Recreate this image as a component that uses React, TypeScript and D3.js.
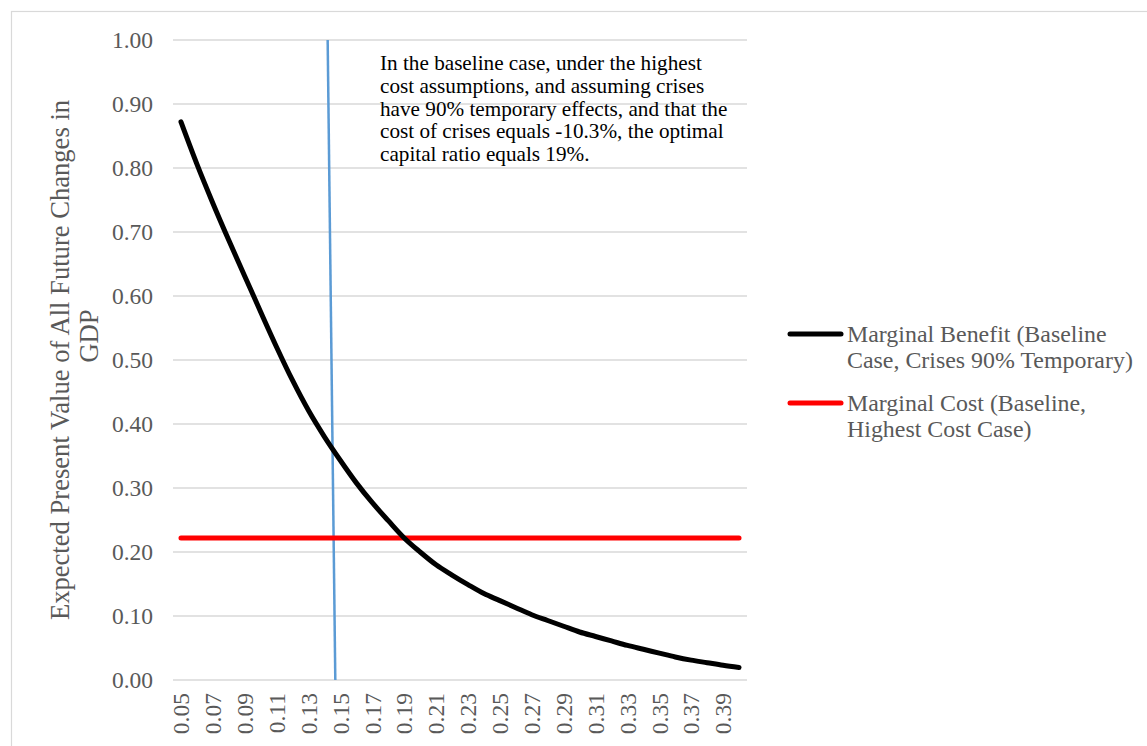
import React from "react";
import * as d3 from "d3";

const categories = [
  "0.05","0.06","0.07","0.08","0.09","0.10","0.11","0.12","0.13","0.14","0.15","0.16",
  "0.17","0.18","0.19","0.20","0.21","0.22","0.23","0.24","0.25","0.26","0.27","0.28",
  "0.29","0.30","0.31","0.32","0.33","0.34","0.35","0.36","0.37","0.38","0.39","0.40",
];
const tickLabels = [
  "0.05","0.07","0.09","0.11","0.13","0.15","0.17","0.19","0.21","0.23","0.25","0.27",
  "0.29","0.31","0.33","0.35","0.37","0.39",
];
const marginalBenefit = [
  0.872, 0.806, 0.745, 0.687, 0.631, 0.575, 0.520, 0.468, 0.421, 0.380, 0.343, 0.308,
  0.277, 0.249, 0.222, 0.200, 0.180, 0.164, 0.149, 0.135, 0.124, 0.113, 0.102, 0.093,
  0.084, 0.075, 0.068, 0.061, 0.054, 0.048, 0.042, 0.036, 0.031, 0.027, 0.023, 0.0195,
];
const marginalCost = categories.map(() => 0.222);
const optimumLine = [
  { x: 0.1420, y: 1.0 },
  { x: 0.1468, y: 0.0 },
];
const yTicks = [0, 0.1, 0.2, 0.3, 0.4, 0.5, 0.6, 0.7, 0.8, 0.9, 1.0];
const legendItems = [
  { lines: ["Marginal Benefit (Baseline", "Case, Crises 90% Temporary)"], color: "#000000" },
  { lines: ["Marginal Cost (Baseline,", "Highest Cost Case)"], color: "#FF0000" },
];
const annotation = [
  "In the baseline case, under the highest",
  "cost assumptions, and assuming crises",
  "have 90% temporary effects, and that the",
  "cost of crises equals -10.3%, the optimal",
  "capital ratio equals 19%.",
];
const yTitle = ["Expected Present Value of All Future Changes in", "GDP"];

const W = 1147;
const H = 746;
const plot = { left: 173, right: 747, top: 40, bottom: 680 };
const font = "'Liberation Serif', 'Times New Roman', serif";
const gray = "#595959";

export default function App() {
  const x = d3.scalePoint<string>().domain(categories).range([plot.left, plot.right]).padding(0.5);
  const xLin = d3
    .scaleLinear()
    .domain([+categories[0], +categories[categories.length - 1]])
    .range([x(categories[0])!, x(categories[categories.length - 1])!]);
  const y = d3.scaleLinear().domain([0, 1]).range([plot.bottom, plot.top]);

  const line = d3
    .line<number>()
    .x((_, i) => x(categories[i])!)
    .y((d) => y(d))
    .curve(d3.curveMonotoneX);
  const blue = d3
    .line<{ x: number; y: number }>()
    .x((d) => xLin(d.x))
    .y((d) => y(d.y));

  return (
    <svg width={W} height={H} style={{ position: "absolute", left: 0, top: 0 }} fontFamily={font}>
      <rect x={0} y={0} width={W} height={H} fill="#fff" />
      <rect x={11.5} y={11.5} width={W + 20} height={H + 20} fill="none" stroke="#d9d9d9" strokeWidth={1.2} />
      {yTicks.map((t) => (
        <g key={t}>
          <line x1={plot.left} x2={plot.right} y1={y(t)} y2={y(t)} stroke="#d9d9d9" strokeWidth={1.5} />
          <text x={153} y={y(t)} dy="0.35em" textAnchor="end" fontSize={23.5} fill={gray}>
            {t.toFixed(2)}
          </text>
        </g>
      ))}
      {tickLabels.map((c) => (
        <text
          key={c}
          transform={`translate(${x(c)},693) rotate(-90)`}
          dy="0.35em"
          textAnchor="end"
          fontSize={23.5}
          fill={gray}
        >
          {c}
        </text>
      ))}
      <g transform="translate(60,360) rotate(-90)">
        <text x={0} y={0} dy="0.35em" textAnchor="middle" fontSize={26.6} fill={gray}>
          {yTitle[0]}
        </text>
      </g>
      <g transform="translate(89,336) rotate(-90)">
        <text x={0} y={0} dy="0.35em" textAnchor="middle" fontSize={26.6} fill={gray}>
          {yTitle[1]}
        </text>
      </g>
      <path d={blue(optimumLine)!} fill="none" stroke="#5B9BD5" strokeWidth={2.5} />
      <path
        d={line(marginalCost)!}
        fill="none"
        stroke="#FF0000"
        strokeWidth={5}
        strokeLinecap="round"
      />
      <path
        d={line(marginalBenefit)!}
        fill="none"
        stroke="#000000"
        strokeWidth={5}
        strokeLinecap="round"
        strokeLinejoin="round"
      />
      {annotation.map((s, i) => (
        <text key={i} x={380} y={70 + i * 22.75} fontSize={21.2} fill="#000">
          {s}
        </text>
      ))}
      {legendItems.map((item, i) => {
        const cy = 334 + i * 69;
        return (
          <g key={i}>
            <line x1={790} x2={841} y1={cy} y2={cy} stroke={item.color} strokeWidth={5} strokeLinecap="round" />
            {item.lines.map((l, j) => (
              <text key={j} x={847} y={cy + 7.7 + j * 26.5} fontSize={23.9} fill={gray}>
                {l}
              </text>
            ))}
          </g>
        );
      })}
    </svg>
  );
}
